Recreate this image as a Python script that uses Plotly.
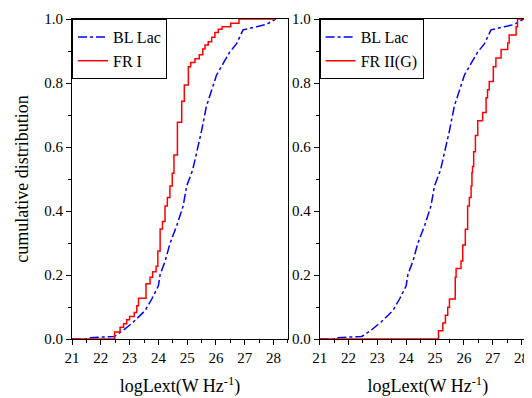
import plotly.graph_objects as go

# BL Lac cumulative distribution (same sample in both panels)
bl_x = [21.0, 21.5, 21.6, 22.3, 22.45, 22.5, 22.79, 23.13, 23.54, 23.77, 24.0, 24.06, 24.23, 24.40,
        24.64, 24.86, 24.98, 25.19, 25.35, 25.50, 25.67, 25.85, 26.02, 26.25, 26.48, 26.71, 26.89,
        26.94, 27.41, 27.75, 28.07]
bl_y = [0, 0, 0.004, 0.006, 0.008, 0.01, 0.028, 0.053, 0.089, 0.125, 0.166, 0.202, 0.242, 0.298,
        0.355, 0.416, 0.478, 0.528, 0.59, 0.651, 0.728, 0.779, 0.825, 0.861, 0.897, 0.922, 0.953,
        0.966, 0.976, 0.983, 1.0]

# FR I (step CDF)
fr1_x = [21.0, 22.48, 22.67, 22.79, 22.90, 23.0, 23.16, 23.25, 23.31, 23.57, 23.71, 23.80, 23.92,
         23.98, 24.06, 24.14, 24.23, 24.31, 24.40, 24.48, 24.54, 24.66, 24.81, 24.90, 25.04, 25.12,
         25.27, 25.42, 25.54, 25.62, 25.73, 25.85, 25.96, 26.08, 26.21, 26.51, 26.80, 28.07]
fr1_y = [0, 0.022, 0.037, 0.048, 0.06, 0.07, 0.083, 0.104, 0.127, 0.173, 0.193, 0.21, 0.227,
         0.275, 0.344, 0.367, 0.416, 0.442, 0.478, 0.518, 0.575, 0.677, 0.743, 0.794, 0.851, 0.864,
         0.876, 0.888, 0.906, 0.919, 0.929, 0.943, 0.958, 0.968, 0.976, 0.987, 1.0, 1.0]

# FR II(G) (step CDF)
fr2_x = [21.0, 25.12, 25.27, 25.36, 25.44, 25.50, 25.70, 25.73, 25.90, 25.96, 26.05, 26.13, 26.19,
         26.25, 26.28, 26.30, 26.34, 26.40, 26.48, 26.65, 26.77, 26.82, 26.88, 27.02, 27.11, 27.29,
         27.52, 27.57, 27.81, 27.86, 28.2]
fr2_y = [0, 0.026, 0.05, 0.074, 0.099, 0.125, 0.193, 0.22, 0.244, 0.294, 0.343, 0.416, 0.442,
         0.478, 0.52, 0.539, 0.585, 0.636, 0.682, 0.708, 0.754, 0.779, 0.805, 0.851, 0.878, 0.905,
         0.925, 0.95, 0.976, 1.0, 1.0]

FONT = "Liberation Serif, Times New Roman, serif"
BLUE = "#0000ff"
RED = "#ff0000"

fig = go.Figure()
fig.add_trace(go.Scatter(x=bl_x, y=bl_y, mode="lines", name="BL Lac",
                         line=dict(color=BLUE, width=1.5, dash="dashdot"),
                         xaxis="x", yaxis="y", legend="legend"))
fig.add_trace(go.Scatter(x=fr1_x, y=fr1_y, mode="lines", name="FR I",
                         line=dict(color=RED, width=1.5, shape="hv"),
                         xaxis="x", yaxis="y", legend="legend"))
fig.add_trace(go.Scatter(x=bl_x, y=bl_y, mode="lines", name="BL Lac",
                         line=dict(color=BLUE, width=1.5, dash="dashdot"),
                         xaxis="x2", yaxis="y2", legend="legend2"))
fig.add_trace(go.Scatter(x=fr2_x, y=fr2_y, mode="lines", name="FR II(G)",
                         line=dict(color=RED, width=1.5, shape="hv"),
                         xaxis="x2", yaxis="y2", legend="legend2"))

# page body has an 8px margin, so the figure is laid out shifted by -8px
L0, L1 = 0.0, 0.4655
R0, R1 = 0.5337, 1.0

xcommon = dict(
    showgrid=False, zeroline=False, showline=True, linecolor="black", linewidth=1,
    ticks="outside", ticklen=5, tickcolor="black", dtick=1, tick0=21,
    minor=dict(ticks="outside", ticklen=3, dtick=0.5, tickcolor="black"),
    tickfont=dict(family=FONT, size=15, color="black"),
    ticklabeloverflow="allow",
    title=dict(text="logLext(W Hz<sup>-1</sup>)", font=dict(family=FONT, size=18, color="black"),
               standoff=14),
    range=[21, 28.5], mirror=True,
)
ycommon = dict(
    showgrid=False, zeroline=False, showline=True, linecolor="black", linewidth=1,
    ticks="outside", ticklen=5, tickcolor="black", dtick=0.2, tick0=0, range=[0, 1],
    tickformat=".1f", mirror=True, ticklabeloverflow="allow",
    minor=dict(ticks="outside", ticklen=3, dtick=0.1, tickcolor="black"),
    tickfont=dict(family=FONT, size=15, color="black"),
)
legcommon = dict(y=1, xanchor="left", yanchor="top", bgcolor="white",
                 bordercolor="black", borderwidth=1,
                 font=dict(family=FONT, size=16, color="black"),
                 tracegroupgap=0, itemwidth=30)

fig.update_layout(
    width=532, height=398,
    margin=dict(l=64, r=3, t=5, b=67),
    plot_bgcolor="white", paper_bgcolor="white",
    xaxis=dict(**xcommon, domain=[L0, L1], anchor="y"),
    yaxis=dict(**ycommon, domain=[0, 1], anchor="x",
               title=dict(text="cumulative distribution",
                          font=dict(family=FONT, size=18, color="black"), standoff=10)),
    xaxis2=dict(**xcommon, domain=[R0, R1], anchor="y2"),
    yaxis2=dict(**ycommon, domain=[0, 1], anchor="x2"),
    legend=dict(**legcommon, x=L0),
    legend2=dict(**legcommon, x=R0),
    showlegend=True,
)

fig.write_html("out.html")
